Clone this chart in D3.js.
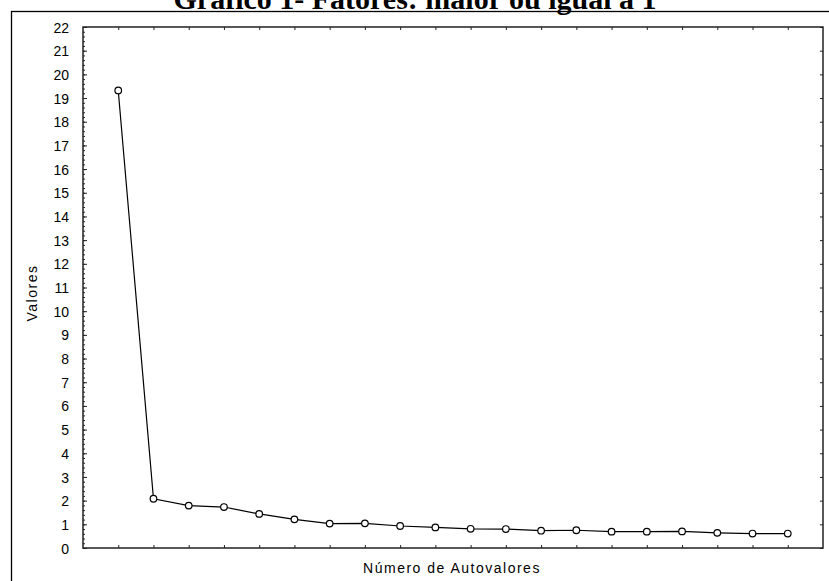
<!DOCTYPE html>
<meta charset="utf-8">
<style>

body {
  margin: 0;
  background: #fff;
}

svg {
  display: block;
  font-family: "Liberation Sans", Arial, sans-serif;
}

.title {
  font-family: "Liberation Serif", "Times New Roman", serif;
  font-weight: bold;
  font-size: 30px;
}

.axis text {
  font-size: 14px;
  fill: #000;
}

.axis path {
  display: none;
}

.axis line {
  stroke: #222;
}

.label {
  font-size: 14px;
  letter-spacing: 1.5px;
}

</style>
<body>
<script src="https://cdn.jsdelivr.net/npm/d3@7"></script>
<script>

var autovalores = [1, 2, 3, 4, 5, 6, 7, 8, 9, 10, 11, 12, 13, 14, 15, 16, 17, 18, 19, 20];
var valores = [19.32, 2.08, 1.79, 1.73, 1.44, 1.21, 1.03, 1.04, 0.93, 0.87,
               0.81, 0.80, 0.73, 0.75, 0.69, 0.69, 0.70, 0.64, 0.61, 0.61];
var yTicks = [0, 1, 2, 3, 4, 5, 6, 7, 8, 9, 10, 11, 12, 13, 14, 15, 16, 17, 18, 19, 20, 21, 22];
var titulo = "Gráfico 1- Fatores: maior ou igual a 1";

var width = 829,
    height = 581;

var plotLeft = 83, plotRight = 823, plotTop = 27, plotBottom = 548;

var svg = d3.select("body").append("svg")
    .attr("width", width)
    .attr("height", height);

// outer frame, runs off the right and bottom edges
svg.append("rect")
    .attr("x", 11.5)
    .attr("y", 11.5)
    .attr("width", 900)
    .attr("height", 700)
    .style("fill", "none")
    .style("stroke", "#000")
    .style("stroke-width", 1.3);

svg.append("text")
    .attr("class", "title")
    .attr("x", 415)
    .attr("y", 9)
    .attr("text-anchor", "middle")
    .text(titulo);

var x = d3.scaleLinear().domain([0, 21]).range([plotLeft, plotRight]);
var y = d3.scaleLinear().domain([0, 22]).range([plotBottom, plotTop]);

// minor ticks on the left axis
svg.append("g")
    .attr("class", "axis")
    .attr("transform", "translate(" + plotLeft + ",0)")
    .call(d3.axisLeft(y).tickValues(d3.range(0, 22.01, 0.2)).tickSizeInner(-2).tickSizeOuter(0).tickFormat(""));

svg.append("g")
    .attr("class", "axis")
    .attr("transform", "translate(" + plotLeft + ",0)")
    .call(d3.axisLeft(y).tickValues(yTicks).tickSizeInner(-4).tickSizeOuter(0).tickPadding(14))
  .selectAll("text")
    .attr("dy", "0.36em");

svg.append("g")
    .attr("class", "axis")
    .attr("transform", "translate(" + plotRight + ",0)")
    .call(d3.axisRight(y).tickValues(yTicks).tickSizeInner(-3).tickSizeOuter(0).tickFormat(""));

svg.append("g")
    .attr("class", "axis")
    .attr("transform", "translate(0," + plotBottom + ")")
    .call(d3.axisBottom(x).tickValues(autovalores).tickSizeInner(-3).tickSizeOuter(0).tickFormat(""));

svg.append("g")
    .attr("class", "axis")
    .attr("transform", "translate(0," + plotTop + ")")
    .call(d3.axisTop(x).tickValues(autovalores).tickSizeInner(-3).tickSizeOuter(0).tickFormat(""));

svg.append("rect")
    .attr("x", plotLeft)
    .attr("y", plotTop)
    .attr("width", plotRight - plotLeft)
    .attr("height", plotBottom - plotTop)
    .style("fill", "none")
    .style("stroke", "#222")
    .style("stroke-width", 1.5);

var line = d3.line()
    .x(function(d, i) { return x(autovalores[i]); })
    .y(function(d) { return y(d); });

svg.append("path")
    .datum(valores)
    .attr("d", line)
    .style("fill", "none")
    .style("stroke", "#000")
    .style("stroke-width", 1.2);

svg.selectAll("circle")
    .data(valores)
  .enter().append("circle")
    .attr("cx", function(d, i) { return x(autovalores[i]); })
    .attr("cy", function(d) { return y(d); })
    .attr("r", 3.3)
    .style("fill", "#fff")
    .style("stroke", "#000")
    .style("stroke-width", 1.2);

svg.append("text")
    .attr("class", "label")
    .attr("x", 452)
    .attr("y", 573)
    .attr("text-anchor", "middle")
    .text("Número de Autovalores");

svg.append("text")
    .attr("class", "label")
    .attr("transform", "translate(37,293) rotate(-90)")
    .attr("text-anchor", "middle")
    .text("Valores");

</script>
